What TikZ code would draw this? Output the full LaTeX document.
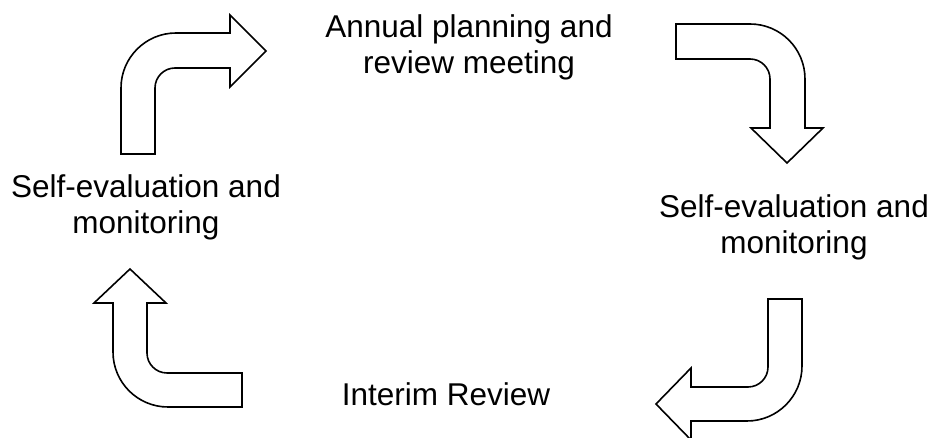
\documentclass[tikz,border=0pt]{standalone}
\usepackage{fontspec}
\setmainfont{Liberation Sans}
\usepackage{tikz}
\definecolor{mydark}{RGB}{0,0,0}
\tikzset{
  bentarrow/.style={draw=mydark, fill=white, line width=1.6pt, line join=miter},
  phase/.style={align=center, text=mydark, inner sep=0pt,
    font=\fontsize{31.5}{36}\selectfont}
}
\begin{document}
\begin{tikzpicture}[x=1pt, y=1pt]
  \useasboundingbox (0,0) rectangle (934,438);

  % the four stages
  \node[phase] (annual) at (469,391) {Annual planning and\\review meeting};
  \node[phase] (selfright) at (794,211) {Self-evaluation and\\monitoring};
  \node[phase, anchor=base] (interim) at (446,32) {Interim Review};
  \node[phase] (selfleft) at (146,231) {Self-evaluation and\\monitoring};

  % up, then right
  \draw[bentarrow] (121,284) -- (121,350) arc[start angle=180, end angle=90, radius=55]
    -- (230,405) -- (230,423) -- (266,387) -- (230,351) -- (230,370)
    -- (175,370) arc[start angle=90, end angle=180, radius=20] -- (155,284) -- cycle;

  % right, then down
  \draw[bentarrow] (676,414) -- (750,414) arc[start angle=90, end angle=0, radius=55]
    -- (805,310) -- (823,310) -- (787,275) -- (751,310) -- (770,310)
    -- (770,359) arc[start angle=0, end angle=90, radius=20] -- (676,379) -- cycle;

  % down, then left
  \draw[bentarrow] (802,139) -- (802,72) arc[start angle=0, end angle=-90, radius=55]
    -- (691,17) -- (691,-2) -- (656,34) -- (691,70) -- (691,51)
    -- (748,51) arc[start angle=-90, end angle=0, radius=20] -- (768,139) -- cycle;

  % left, then up
  \draw[bentarrow] (242,31) -- (168,31) arc[start angle=-90, end angle=-180, radius=55]
    -- (113,135) -- (94,135) -- (130,169) -- (166,135) -- (147,135)
    -- (147,85) arc[start angle=180, end angle=270, radius=20] -- (242,65) -- cycle;
\end{tikzpicture}
\end{document}
